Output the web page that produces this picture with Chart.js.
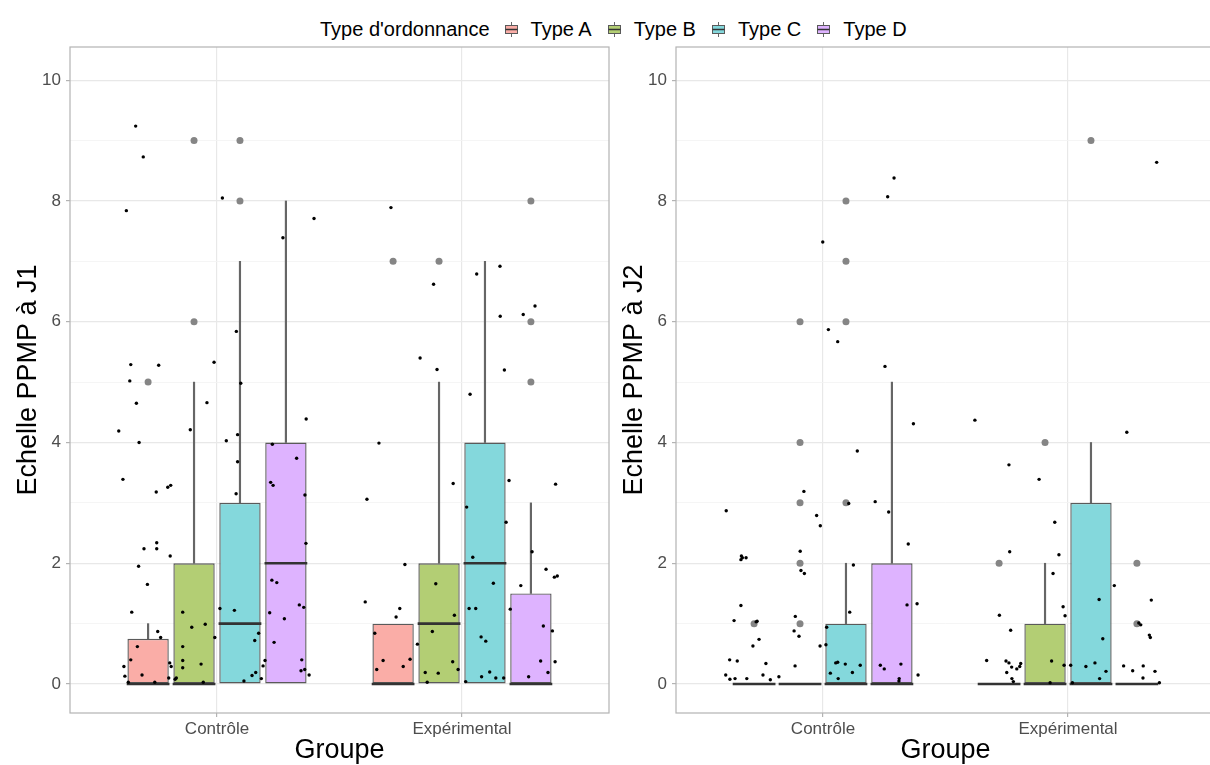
<!DOCTYPE html>
<html><head><meta charset="utf-8">
<script src="https://cdn.jsdelivr.net/npm/chart.js@4.4.1/dist/chart.umd.min.js"></script>
<style>
html,body{margin:0;padding:0;background:#fff;width:1210px;height:765px;overflow:hidden;font-family:"Liberation Sans",Arial,sans-serif;}
#legend{position:absolute;left:320px;top:17px;height:24px;display:flex;align-items:center;font-size:20px;color:#000;white-space:nowrap;}
#legend .ttl{margin-right:12px;}
#legend svg{margin-right:10px;display:block;}
#legend .lab{margin-right:13px;}
canvas{position:absolute;top:0;}
#c1{left:0;}
#c2{left:606px;}
</style></head><body>
<div id="legend"></div>
<canvas id="c1" width="620" height="765"></canvas>
<canvas id="c2" width="620" height="765"></canvas>
<script>
// ---------- data ----------
const groups = ['Contrôle', 'Expérimental'];
const types = ['Type A', 'Type B', 'Type C', 'Type D'];
const legendTitle = "Type d'ordonnance";
const xTitle = 'Groupe';
const yTitles = ['Echelle PPMP à J1', 'Echelle PPMP à J2'];
const yTickValues = [0,1,2,3,4,5,6,7,8,9,10];

// box statistics, [type][group]
const j1Q1 = [[0,0],[0,0],[0,0],[0,0]];
const j1Median = [[0,0],[0,1],[1,2],[2,0]];
const j1Q3 = [[0.75,1],[2,2],[3,4],[4,1.5]];
const j1WhiskerHigh = [[1,1],[5,5],[7,7],[8,3]];
const j1Outliers = [[[5],[7]],[[6,9],[7]],[[8,9],[]],[[],[5,6,8]]];

const j2Q1 = [[0,0],[0,0],[0,0],[0,0]];
const j2Median = [[0,0],[0,0],[0,0],[0,0]];
const j2Q3 = [[0,0],[0,1],[1,3],[2,0]];
const j2WhiskerHigh = [[0,0],[0,2],[2,4],[5,0]];
const j2Outliers = [[[1],[2]],[[1,2,3,4,6],[4]],[[3,6,7,8],[9]],[[],[1,2]]];

// jittered observations (x on the group axis: 1 = Contrôle, 2 = Expérimental)
const j1CtrlX = [0.668,0.699,1.022,0.630,1.396,1.269,1.079,0.648,0.762,0.988,0.644,1.097,0.671,0.959,1.364,0.599,0.682,0.891,1.038,1.084,1.084,1.078,1.226,1.325,0.616,0.752,0.799,0.811,1.219,1.229,1.359,1.363,0.702,0.754,0.754,0.809,0.680,0.716,1.224,1.244,0.652,0.860,1.012,1.071,1.215,1.336,1.354,1.275,0.897,0.952,0.758,0.770,0.991,1.170,1.154,0.675,0.860,1.233,0.648,0.860,1.196,1.346,0.620,0.807,0.813,0.935,0.860,1.188,0.694,0.624,0.803,0.834,0.829,1.143,1.158,1.181,1.343,1.358,1.376,0.638,0.746,0.944,1.110];
const j1CtrlY = [9.24,8.73,8.05,7.84,7.71,7.39,5.84,5.29,5.28,5.33,5.02,4.98,4.65,4.66,4.39,4.19,4.00,4.21,4.03,4.13,3.68,3.15,3.97,3.74,3.39,3.18,3.26,3.29,3.34,3.29,3.13,2.33,2.24,2.34,2.24,2.12,1.95,1.65,1.72,1.68,1.19,1.19,1.25,1.22,1.18,1.31,1.27,1.08,0.94,0.99,0.87,0.77,0.77,0.84,0.72,0.62,0.62,0.69,0.40,0.39,0.39,0.40,0.29,0.35,0.29,0.33,0.27,0.30,0.15,0.13,0.10,0.10,0.08,0.14,0.19,0.09,0.22,0.24,0.15,0.03,0.03,0.03,0.05];
const j1ExpX = [1.710,2.155,2.060,1.884,2.298,2.156,2.250,1.829,1.898,2.173,2.033,1.661,1.612,1.964,2.382,2.192,2.019,2.180,2.044,2.286,1.767,2.343,2.377,2.389,1.893,2.240,2.128,1.605,1.746,1.731,2.029,2.056,2.197,1.969,2.332,2.369,1.879,1.644,2.078,2.097,1.818,1.678,1.788,1.760,1.652,1.962,1.984,2.321,2.380,1.850,1.903,2.113,2.351,1.858,2.080,2.138,2.170,2.272,2.015];
const j1ExpY = [7.89,6.92,6.79,6.62,6.26,6.09,6.12,5.40,5.21,5.20,4.80,3.99,3.06,3.32,3.31,3.37,2.93,2.68,2.10,2.19,1.98,1.90,1.77,1.79,1.66,1.63,1.67,1.36,1.25,1.11,1.25,1.25,1.24,1.14,0.96,0.88,0.87,0.84,0.78,0.71,0.66,0.39,0.41,0.29,0.24,0.37,0.24,0.38,0.37,0.19,0.18,0.20,0.19,0.03,0.12,0.10,0.10,0.12,0.04];
const j2CtrlX = [1.290,1.264,0.999,1.022,1.060,1.253,1.369,1.140,0.922,1.105,1.213,1.268,0.605,0.974,0.989,1.348,0.667,0.671,0.665,0.686,0.907,0.910,0.924,1.124,0.665,1.384,1.343,1.109,0.637,0.727,0.731,0.887,1.015,0.882,0.902,0.739,0.714,0.988,1.012,0.619,0.650,0.767,1.052,1.060,1.091,1.152,1.234,1.250,1.318,0.886,0.603,0.620,0.641,0.689,0.755,0.785,0.820,1.030,1.062,1.120,1.388,1.311,1.310];
const j2CtrlY = [8.38,8.07,7.32,5.87,5.67,5.26,4.31,3.86,3.19,2.99,3.02,2.85,2.87,2.79,2.62,2.32,2.12,2.09,2.06,2.09,2.20,1.88,1.83,1.97,1.30,1.33,1.31,1.19,1.05,1.03,1.04,1.12,0.94,0.88,0.79,0.74,0.63,0.63,0.65,0.40,0.38,0.34,0.35,0.36,0.33,0.31,0.31,0.25,0.33,0.30,0.15,0.08,0.09,0.09,0.15,0.07,0.12,0.18,0.09,0.19,0.15,0.09,0.05];
const j2ExpX = [2.362,1.620,2.240,1.759,1.882,1.946,1.762,1.963,1.939,2.189,2.127,2.340,1.980,1.988,1.720,2.289,2.297,1.766,2.142,2.332,2.336,1.668,1.747,1.759,1.933,1.984,2.011,2.073,2.110,2.227,2.307,1.770,1.807,1.803,1.791,1.750,2.264,2.355,2.155,1.771,1.777,2.129,2.306,1.927,2.018,2.373];
const j2ExpY = [8.64,4.37,4.17,3.63,3.39,2.68,2.19,2.14,1.83,1.63,1.40,1.39,1.28,1.13,1.14,1.01,0.98,0.89,0.75,0.81,0.77,0.39,0.38,0.35,0.38,0.31,0.31,0.29,0.35,0.30,0.30,0.28,0.34,0.29,0.25,0.19,0.22,0.21,0.21,0.09,0.04,0.09,0.10,0.02,0.02,0.02];

// ---------- style ----------
const typeFills = ['#FAADA7', '#B3CE74', '#84D8DC', '#DEB3FF'];
const BOX_LINE = '#5a5a5a';
const WHISKER = '#666666';
const MEDIAN = '#333333';
const OUTLIER = '#858585';
const GRID_MAJOR = '#E8E8E8';
const GRID_MINOR = '#F3F3F3';
const PANEL_BORDER = '#B3B3B3';
const TICK_TEXT = '#4D4D4D';
const FONT = '"Liberation Sans", Arial, sans-serif';
const DODGE = 0.75;

// ---------- legend ----------
const leg = document.getElementById('legend');
const lt = document.createElement('span'); lt.className = 'ttl'; lt.textContent = legendTitle; leg.appendChild(lt);
types.forEach((t, i) => {
  const ns = 'http://www.w3.org/2000/svg';
  const s = document.createElementNS(ns, 'svg'); s.setAttribute('width', '19'); s.setAttribute('height', '19');
  s.innerHTML = '<line x1="9.5" y1="2" x2="9.5" y2="17" stroke="' + WHISKER + '" stroke-width="1"/>' +
    '<rect x="3.5" y="5.5" width="12" height="8" fill="' + typeFills[i] + '" stroke="' + BOX_LINE + '" stroke-width="1"/>' +
    '<line x1="3.5" y1="9.5" x2="15.5" y2="9.5" stroke="' + MEDIAN + '" stroke-width="1.5"/>';
  leg.appendChild(s);
  const l = document.createElement('span'); l.className = 'lab'; l.textContent = t; leg.appendChild(l);
});

// ---------- plugin: medians + panel border ----------
const boxExtras = {
  id: 'boxExtras',
  afterDatasetDraw(chart, args) {
    const ds = chart.data.datasets[args.index];
    if (!ds.medians) return;
    const ctx = chart.ctx, ys = chart.scales.y;
    ctx.save();
    ctx.strokeStyle = MEDIAN; ctx.lineWidth = 2.6;
    args.meta.data.forEach((el, i) => {
      const y = ys.getPixelForValue(ds.medians[i]);
      ctx.beginPath(); ctx.moveTo(el.x - el.width / 2 - 0.7, y); ctx.lineTo(el.x + el.width / 2 + 0.7, y); ctx.stroke();
    });
    ctx.restore();
  },
  afterDraw(chart) {
    const a = chart.chartArea, ctx = chart.ctx;
    ctx.save(); ctx.strokeStyle = PANEL_BORDER; ctx.lineWidth = 1.2;
    ctx.strokeRect(a.left, a.top, a.right - a.left, a.bottom - a.top);
    ctx.restore();
  }
};

function buildPanel(canvasId, yTitle, q1, med, q3, whi, outl, jx, jy) {
  const datasets = [];
  types.forEach((t, ti) => {
    const off = (ti - (types.length - 1) / 2) * DODGE / types.length;
    datasets.push({
      type: 'bar', label: t,
      data: groups.map((g, gi) => ({x: gi + 1 + off, y: [q1[ti][gi], q3[ti][gi]]})),
      medians: med[ti],
      backgroundColor: typeFills[ti], borderColor: BOX_LINE, borderWidth: 1.4, borderSkipped: false,
      grouped: false, categoryPercentage: 1, barPercentage: 0.9, order: 2
    });
    const w = [];
    groups.forEach((g, gi) => { if (whi[ti][gi] > q3[ti][gi]) w.push({x: gi + 1 + off, y: [q3[ti][gi], whi[ti][gi]]}); });
    datasets.push({
      type: 'bar', label: t + ' whisker', data: w,
      backgroundColor: WHISKER, borderWidth: 0, grouped: false,
      categoryPercentage: 1, barPercentage: 1, maxBarThickness: 1.5, order: 3
    });
    const o = [];
    groups.forEach((g, gi) => outl[ti][gi].forEach(v => o.push({x: gi + 1 + off, y: v})));
    datasets.push({
      type: 'scatter', label: t + ' outliers', data: o,
      pointRadius: 3.5, backgroundColor: OUTLIER, borderWidth: 0, order: 1
    });
  });
  datasets.push({
    type: 'scatter', label: 'observations', data: jx.map((x, i) => ({x: x, y: jy[i]})),
    pointRadius: 1.7, backgroundColor: '#000', borderWidth: 0, order: 0
  });

  return new Chart(document.getElementById(canvasId), {
    type: 'bar',
    data: {datasets},
    plugins: [boxExtras],
    options: {
      responsive: false, animation: false, events: [],
      layout: {padding: {top: 47, right: 11, left: 0, bottom: 0}},
      plugins: {legend: {display: false}, tooltip: {enabled: false}},
      scales: {
        x: {
          type: 'linear', min: 0.4, max: 2.6, offset: false,
          afterBuildTicks: s => { s.ticks = groups.map((g, i) => ({value: i + 1})); },
          afterFit: s => { s.height = 52; },
          ticks: {callback: v => groups[v - 1], color: TICK_TEXT, font: {family: FONT, size: 17}, padding: 2, maxRotation: 0},
          grid: {offset: false, color: GRID_MAJOR, lineWidth: 1.2, tickLength: 4, tickColor: PANEL_BORDER},
          border: {display: false},
          title: {display: true, text: xTitle, color: '#000', font: {family: FONT, size: 27, lineHeight: 1.1}, padding: {top: 0, bottom: 0}}
        },
        y: {
          type: 'linear', min: -0.48, max: 10.55,
          afterBuildTicks: s => { s.ticks = yTickValues.map(v => ({value: v})); },
          afterFit: s => { s.width = 70; },
          ticks: {callback: v => (v % 2 === 0 ? String(v) : ''), color: TICK_TEXT, font: {family: FONT, size: 17}, padding: 5},
          grid: {
            color: c => (c.tick && c.tick.value % 2 === 0 ? GRID_MAJOR : GRID_MINOR),
            lineWidth: c => (c.tick && c.tick.value % 2 === 0 ? 1.2 : 0.8),
            tickLength: 4,
            tickColor: c => (c.tick && c.tick.value % 2 === 0 ? PANEL_BORDER : 'rgba(0,0,0,0)')
          },
          border: {display: false},
          title: {display: true, text: yTitle, color: '#000', font: {family: FONT, size: 27, lineHeight: 1.1}, padding: {top: 14, bottom: 0}}
        }
      }
    }
  });
}

buildPanel('c1', yTitles[0], j1Q1, j1Median, j1Q3, j1WhiskerHigh, j1Outliers, j1CtrlX.concat(j1ExpX), j1CtrlY.concat(j1ExpY));
buildPanel('c2', yTitles[1], j2Q1, j2Median, j2Q3, j2WhiskerHigh, j2Outliers, j2CtrlX.concat(j2ExpX), j2CtrlY.concat(j2ExpY));
</script>
</body></html>
